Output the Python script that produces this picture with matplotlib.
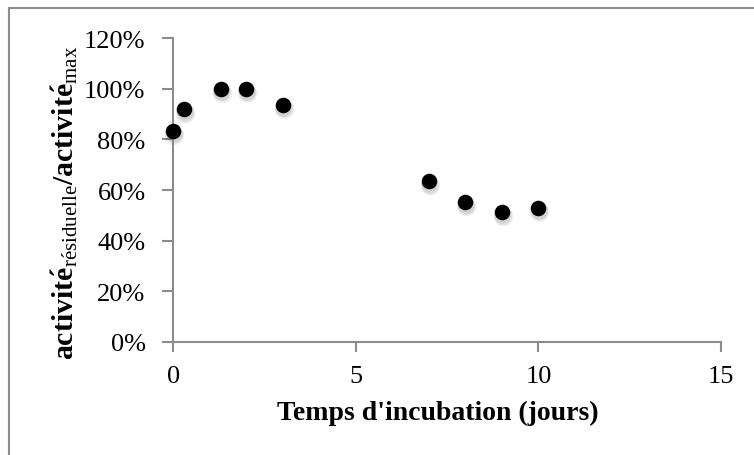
import matplotlib
matplotlib.use("Agg")
import matplotlib.pyplot as plt
import matplotlib.transforms as mtransforms
from matplotlib.patches import Rectangle
from matplotlib.ticker import FuncFormatter

# Data
days = [0, 0.3, 1.3, 2, 3, 7, 8, 9, 10]
activity = [83.5, 92.0, 100.0, 100.0, 93.8, 63.5, 55.2, 51.2, 53.0]
x_ticks = [0, 5, 10, 15]
y_ticks = [0, 20, 40, 60, 80, 100, 120]
x_label = "Temps d'incubation (jours)"

plt.rcParams['font.family'] = ['Liberation Serif', 'DejaVu Serif']
plt.rcParams['mathtext.fontset'] = 'custom'
plt.rcParams['mathtext.rm'] = 'Liberation Serif'
plt.rcParams['mathtext.bf'] = 'Liberation Serif:bold'
plt.rcParams['mathtext.it'] = 'Liberation Serif:italic'

W, H = 754, 456
fig = plt.figure(figsize=(W / 100, H / 100), dpi=100)

# outer chart border
fig.patches.append(Rectangle((9 / W, -0.1), 1.2, 1 - 9 / H + 0.1, transform=fig.transFigure,
                             fill=False, edgecolor='#8c8c8c', linewidth=1.5))

left, right, top, bottom = 173.3, 721, 39.3, 342.7
ax = fig.add_axes([left / W, 1 - bottom / H, (right - left) / W, (bottom - top) / H])

# soft marker shadow
for dx, dy, a, s in [(1.0, -4.0, 0.05, 200), (1.0, -3.5, 0.06, 170), (0.5, -3.0, 0.07, 140)]:
    tr = mtransforms.offset_copy(ax.transData, fig=fig, x=dx, y=dy, units='dots')
    ax.scatter(days, activity, s=s, color='black', alpha=a, linewidths=0,
               transform=tr, zorder=2, clip_on=False)
ax.scatter(days, activity, s=125, color='black', linewidths=0, zorder=3, clip_on=False)

ax.set_xlim(0, 15)
ax.set_ylim(0, 120)
ax.set_xticks(x_ticks)
ax.set_yticks(y_ticks)
ax.yaxis.set_major_formatter(FuncFormatter(lambda v, p: f"{int(v)}%"))

for s in ['top', 'right']:
    ax.spines[s].set_visible(False)
for s in ['left', 'bottom']:
    ax.spines[s].set_color('#8c8c8c')
    ax.spines[s].set_linewidth(1.5)

ax.tick_params(axis='both', direction='out', color='#8c8c8c', width=1.5, labelsize=19,
               labelcolor='black')
ax.tick_params(axis='y', length=8, pad=12)
ax.tick_params(axis='x', length=7, pad=10)

fig.text(437.5 / W, 1 - 413 / H, x_label, ha='center', va='center', fontsize=20,
         fontweight='bold')
fig.text(65 / W, 1 - 203 / H,
         r'$\mathbf{activit\acute{e}}_{\mathrm{r\acute{e}siduelle}}\mathbf{/activit\acute{e}}_{\mathrm{max}}$',
         ha='center', va='center', rotation=90, fontsize=21.5)

fig.savefig('out.png', dpi=100)
